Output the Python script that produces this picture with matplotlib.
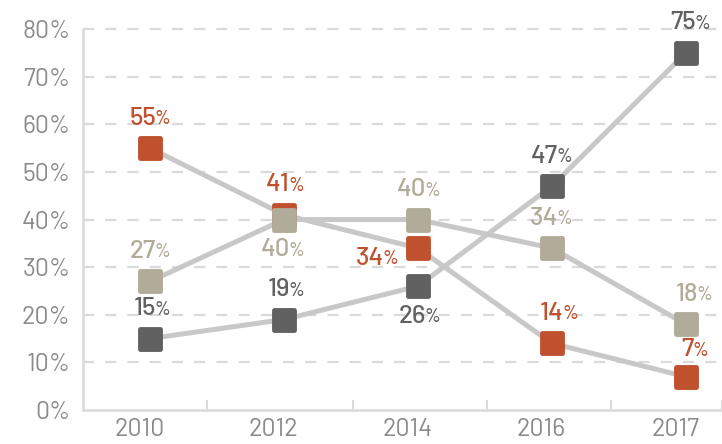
import matplotlib
matplotlib.use("Agg")
import matplotlib.pyplot as plt
from matplotlib.markers import MarkerStyle
from matplotlib.transforms import ScaledTranslation

plt.rcParams['font.family'] = ['Barlow', 'DejaVu Sans']

years = ["2010", "2012", "2014", "2016", "2017"]
red_vals = [55, 41, 34, 14, 7]
beige_vals = [27, 40, 40, 34, 18]
dark_vals = [15, 19, 26, 47, 75]
y_ticks = [0, 10, 20, 30, 40, 50, 60, 70, 80]

RED = "#C0512F"
BEIGE = "#B1AB99"
DARK = "#616161"
LINE = "#C8C8C8"
GRID = "#DADADA"
TICK = "#8A8A8A"

fig = plt.figure(figsize=(7.22, 4.44), dpi=100)
ax = fig.add_axes([0.115, 0.0766, 0.885, 0.9234])

x = list(range(len(years)))
ms = MarkerStyle('s', joinstyle='round')

for vals in [beige_vals, red_vals, dark_vals]:
    ax.plot(x, vals, color=LINE, lw=3.6, zorder=2, solid_capstyle='butt')
for vals, col in [(red_vals, RED), (beige_vals, BEIGE), (dark_vals, DARK)]:
    ax.plot(x, vals, ls='none', marker=ms, markersize=15, markerfacecolor=col,
            markeredgecolor=col, markeredgewidth=3.5, zorder=3)

ax.set_xlim(-0.5, 4.27)
ax.set_ylim(0, 86.1)

for t in y_ticks[1:]:
    ax.axhline(t, color=GRID, lw=1.6, dashes=(5, 5), zorder=1)

ax.set_yticks(y_ticks)
ax.set_yticklabels([f"{t}%" for t in y_ticks])
ax.set_xticks(x)
ax.set_xticklabels(years)
ax.set_xticks([0.425, 1.515, 2.515, 3.44, 4.27], minor=True)
ax.tick_params(axis='x', which='major', length=0, pad=6, labelsize=18, labelcolor=TICK)
ax.tick_params(axis='x', which='minor', length=7, width=1.5, direction='in', color=GRID)
ax.tick_params(axis='y', length=0, pad=9, labelsize=18, labelcolor=TICK)
shift = ScaledTranslation(-10.5 / 100, 0, fig.dpi_scale_trans)
for lab in ax.get_xticklabels():
    lab.set_transform(lab.get_transform() + shift)

for s in ['top', 'right']:
    ax.spines[s].set_visible(False)
for s in ['left', 'bottom']:
    ax.spines[s].set_color(GRID)
    ax.spines[s].set_linewidth(1.8)
ax.spines['left'].set_bounds(0, 80)

PX = 0.72  # points per pixel

def label(xi, v, col, dx, dy):
    ax.annotate(f"{v}", (xi, v), xytext=((dx + 6) * PX, dy * PX), textcoords='offset points',
                ha='right', va='center', color=col, fontsize=18.5, fontweight=500, zorder=4)
    ax.annotate("%", (xi, v), xytext=((dx + 4.5) * PX, (dy - 1) * PX), textcoords='offset points',
                ha='left', va='center', color=col, fontsize=13.5, fontweight=500, zorder=4)

UP = 30
label(0, red_vals[0], RED, 0, UP)
label(1, red_vals[1], RED, 0, UP)
label(2, red_vals[2], RED, -40, -10)
label(3, red_vals[3], RED, 6, UP)
label(4, red_vals[4], RED, 2, UP - 3)
label(0, beige_vals[0], BEIGE, 0, UP)
label(1, beige_vals[1], BEIGE, 0, -UP)
label(2, beige_vals[2], BEIGE, 2, UP)
label(3, beige_vals[3], BEIGE, 0, UP)
label(4, beige_vals[4], BEIGE, 6, UP)
label(0, dark_vals[0], DARK, 0, UP)
label(1, dark_vals[1], DARK, 0, UP)
label(2, dark_vals[2], DARK, 2, -UP)
label(3, dark_vals[3], DARK, 0, UP)
label(4, dark_vals[4], DARK, 4, UP)

fig.savefig("out.png", dpi=100)
